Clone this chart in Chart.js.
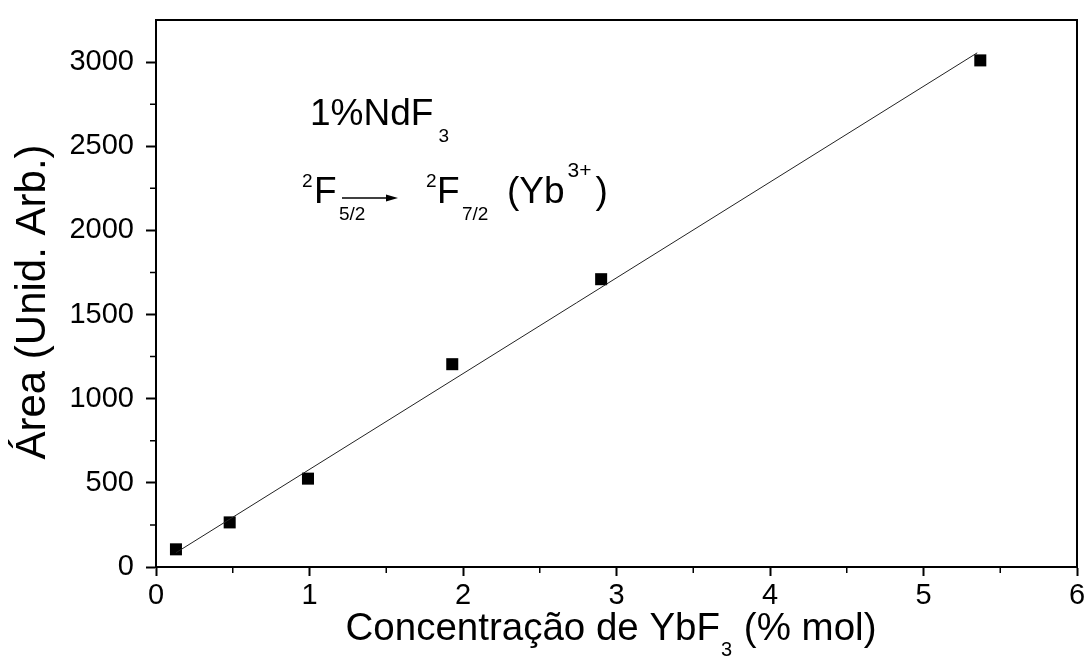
<!DOCTYPE html>
<html>
<head>
<meta charset="utf-8">
<script src="https://cdn.jsdelivr.net/npm/chart.js@4.4.1/dist/chart.umd.min.js"></script>
<style>
  html, body { margin: 0; padding: 0; background: #fff; }
  #wrap { width: 1092px; height: 658px; }
</style>
</head>
<body>
<div id="wrap"><canvas id="c" width="1092" height="658"></canvas></div>
<script>
// YbF3 concentration (% mol) and integrated emission area (arb. units)
const concentration = [0.13, 0.48, 0.99, 1.93, 2.90, 5.37];
const area = [105, 265, 525, 1205, 1710, 3010];

// Linear fit through the measured points (end points of the drawn line)
const fitX = [0.13, 5.35];
const fitY = [85, 3055];

// Axis ticks
const xMajorTicks = [0, 1, 2, 3, 4, 5, 6];
const xMinorTicks = [0.5, 1.5, 2.5, 3.5, 4.5, 5.5];
const yMajorTicks = [0, 500, 1000, 1500, 2000, 2500, 3000];
const yMinorTicks = [250, 750, 1250, 1750, 2250, 2750];

const FONT = '"Liberation Sans", Arial, Helvetica, sans-serif';

function text(ctx, t, x, y, size) {
  ctx.font = size + 'px ' + FONT;
  ctx.fillText(t, x, y);
  return x + ctx.measureText(t).width;
}

const frame = {
  id: 'frame',
  afterDraw(chart) {
    const { ctx, chartArea: a, scales } = chart;
    ctx.save();
    ctx.strokeStyle = '#000';
    ctx.fillStyle = '#000';
    // top and right frame lines
    ctx.lineWidth = 2;
    ctx.beginPath();
    ctx.moveTo(a.left, a.top);
    ctx.lineTo(a.right, a.top);
    ctx.lineTo(a.right, a.bottom);
    ctx.stroke();

    // minor ticks
    ctx.lineWidth = 1.5;
    ctx.beginPath();
    for (const v of xMinorTicks) {
      const px = scales.x.getPixelForValue(v);
      ctx.moveTo(px, a.bottom);
      ctx.lineTo(px, a.bottom + 6);
    }
    for (const v of yMinorTicks) {
      const py = scales.y.getPixelForValue(v);
      ctx.moveTo(a.left, py);
      ctx.lineTo(a.left - 6, py);
    }
    ctx.stroke();

    ctx.textBaseline = 'alphabetic';
    ctx.textAlign = 'left';

    // y axis title
    ctx.save();
    ctx.translate(45, 302);
    ctx.rotate(-Math.PI / 2);
    ctx.textAlign = 'center';
    ctx.font = '42px ' + FONT;
    ctx.fillText('Área (Unid. Arb.)', 0, 0);
    ctx.restore();

    // x axis title with subscript
    ctx.font = '38.5px ' + FONT;
    const w1 = ctx.measureText('Concentração de YbF').width;
    const w3 = ctx.measureText(' (% mol)').width;
    ctx.font = '20px ' + FONT;
    const w2 = ctx.measureText('3').width + 2;
    let x0 = 611 - (w1 + w2 + w3) / 2;
    text(ctx, 'Concentração de YbF', x0, 640, 38.5);
    text(ctx, '3', x0 + w1 + 1, 656, 20);
    text(ctx, ' (% mol)', x0 + w1 + w2, 640, 38.5);

    // annotation: dopant
    const nx = text(ctx, '1%NdF', 310, 125, 37);
    text(ctx, '3', nx + 5, 142, 19);

    // annotation: transition
    text(ctx, '2', 302, 187, 19);
    text(ctx, 'F', 314, 203, 37);
    text(ctx, '5/2', 339, 220, 19);
    ctx.lineWidth = 1.5;
    ctx.beginPath();
    ctx.moveTo(342, 198);
    ctx.lineTo(390, 198);
    ctx.stroke();
    ctx.beginPath();
    ctx.moveTo(398, 198);
    ctx.lineTo(386, 194.5);
    ctx.lineTo(386, 201.5);
    ctx.closePath();
    ctx.fill();

    text(ctx, '2', 426, 187, 19);
    text(ctx, 'F', 437, 203, 37);
    text(ctx, '7/2', 462, 220, 19);
    const yb = text(ctx, '(Yb', 507, 203, 37);
    const sp = text(ctx, '3+', yb + 3, 177, 21);
    text(ctx, ')', sp + 4, 203, 37);
    ctx.restore();
  }
};

new Chart(document.getElementById('c'), {
  type: 'scatter',
  data: {
    datasets: [
      {
        type: 'line',
        data: fitX.map((x, i) => ({ x, y: fitY[i] })),
        borderColor: '#222',
        borderWidth: 1,
        pointRadius: 0,
        fill: false,
        tension: 0
      },
      {
        data: concentration.map((x, i) => ({ x, y: area[i] })),
        pointStyle: 'rect',
        pointRadius: 8.5,
        pointHoverRadius: 8.5,
        backgroundColor: '#000',
        borderColor: '#000',
        borderWidth: 0
      }
    ]
  },
  options: {
    responsive: false,
    animation: false,
    devicePixelRatio: 1,
    layout: { padding: { top: 20, right: 15, left: 0, bottom: 0 } },
    plugins: { legend: { display: false }, tooltip: { enabled: false } },
    scales: {
      x: {
        type: 'linear',
        min: 0,
        max: 6,
        afterFit: s => { s.height = 91; },
        afterBuildTicks: s => { s.ticks = xMajorTicks.map(v => ({ value: v })); },
        ticks: {
          color: '#000',
          font: { family: FONT, size: 29 },
          padding: 3,
          callback: v => String(v)
        },
        grid: {
          drawOnChartArea: false,
          drawTicks: true,
          tickLength: 9,
          tickWidth: 2,
          tickColor: '#000'
        },
        border: { display: true, color: '#000', width: 2 }
      },
      y: {
        type: 'linear',
        min: 0,
        max: 3250,
        afterFit: s => { s.width = 156; s.paddingTop = 0; s.paddingBottom = 0; },
        afterBuildTicks: s => { s.ticks = yMajorTicks.map(v => ({ value: v })); },
        ticks: {
          color: '#000',
          font: { family: FONT, size: 29 },
          padding: 12,
          callback: v => String(v)
        },
        grid: {
          drawOnChartArea: false,
          drawTicks: true,
          tickLength: 10,
          tickWidth: 2,
          tickColor: '#000'
        },
        border: { display: true, color: '#000', width: 2 }
      }
    }
  },
  plugins: [frame]
});
</script>
</body>
</html>
